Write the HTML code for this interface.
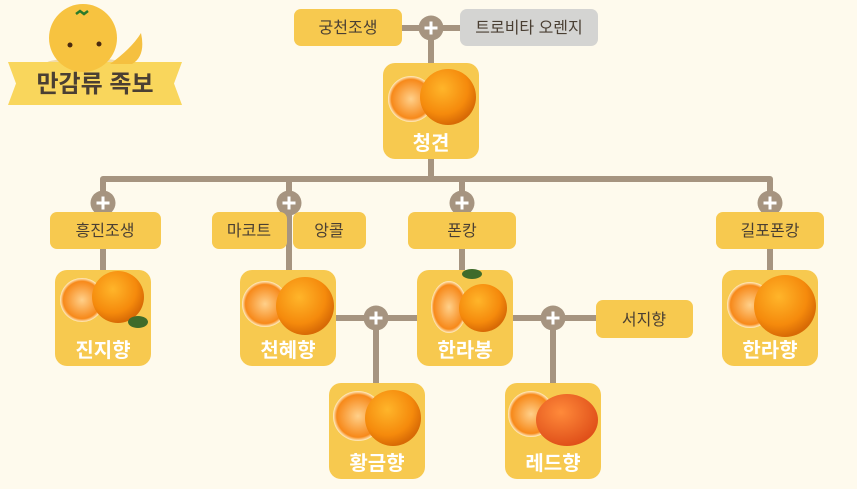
<!DOCTYPE html>
<html><head><meta charset="utf-8"><style>
html,body{margin:0;padding:0;background:#fefaed;}
svg{display:block}
text{font-family:"Liberation Sans","Noto Sans CJK KR",sans-serif;}
</style></head><body>
<svg width="857" height="489" viewBox="0 0 857 489" xmlns="http://www.w3.org/2000/svg">
<defs>
<radialGradient id="og" cx="40%" cy="35%" r="65%"><stop offset="0" stop-color="#ffb52a"/><stop offset="0.7" stop-color="#f58a0c"/><stop offset="1" stop-color="#d86a05"/></radialGradient>
<radialGradient id="sl" cx="50%" cy="50%" r="50%"><stop offset="0" stop-color="#ffd08a"/><stop offset="0.85" stop-color="#f7891a"/><stop offset="1" stop-color="#fff0c8"/></radialGradient>
<radialGradient id="rd" cx="40%" cy="35%" r="65%"><stop offset="0" stop-color="#ff8a3a"/><stop offset="1" stop-color="#e0501a"/></radialGradient>
<g id="pl"><circle r="12.5" fill="#a69480"/><path d="M-6.5 0H6.5M0 -6.5V6.5" stroke="#fff" stroke-width="3"/></g>
</defs>
<g stroke="#a69480" stroke-width="6" fill="none" stroke-linecap="round">
<path d="M402 28H460M431 28V63M431 159V179M103 179H770M103 179V249M289 179V270M462 179V270M770 179V270M103 249V270M336 318H417M376 318V383M513 318H596M553 318V383"/>
</g>
<use href="#pl" x="431" y="28"/><use href="#pl" x="103" y="203"/><use href="#pl" x="289" y="203"/><use href="#pl" x="462" y="203"/><use href="#pl" x="770" y="203"/><use href="#pl" x="376" y="318"/><use href="#pl" x="553" y="318"/>
<g fill="#f7c94f">
<rect x="294" y="9" width="108" height="37" rx="7"/>
<rect x="50" y="212" width="111" height="37" rx="7"/>
<rect x="212" y="212" width="75" height="37" rx="7"/>
<rect x="293" y="212" width="73" height="37" rx="7"/>
<rect x="408" y="212" width="108" height="37" rx="7"/>
<rect x="716" y="212" width="108" height="37" rx="7"/>
<rect x="596" y="300" width="97" height="38" rx="7"/>
</g>
<rect x="460" y="9" width="138" height="37" rx="7" fill="#d4d4d2"/>
<g font-size="16" fill="#4a3f33" text-anchor="middle">
<text x="348" y="33">궁천조생</text><text x="529" y="33">트로비타 오렌지</text>
<text x="105" y="236">흥진조생</text><text x="249" y="236">마코트</text><text x="329" y="236">앙콜</text>
<text x="462" y="236">폰캉</text><text x="770" y="236">길포폰캉</text><text x="644" y="325">서지향</text>
</g>
<g>
<rect x="383" y="63" width="96" height="96" rx="12" fill="#f7c94f"/>
<circle cx="411" cy="99" r="23" fill="url(#sl)"/><circle cx="448" cy="97" r="28" fill="url(#og)"/>
<rect x="55" y="270" width="96" height="96" rx="12" fill="#f7c94f"/>
<circle cx="82" cy="300" r="22" fill="url(#sl)"/><circle cx="118" cy="297" r="26" fill="url(#og)"/><ellipse cx="138" cy="322" rx="10" ry="6" fill="#3f6b2a"/>
<rect x="240" y="270" width="96" height="96" rx="12" fill="#f7c94f"/>
<circle cx="265" cy="304" r="23" fill="url(#sl)"/><circle cx="305" cy="306" r="29" fill="url(#og)"/>
<rect x="417" y="270" width="96" height="96" rx="12" fill="#f7c94f"/>
<ellipse cx="449" cy="307" rx="18" ry="26" fill="url(#sl)"/><circle cx="483" cy="308" r="24" fill="url(#og)"/><ellipse cx="472" cy="274" rx="10" ry="5" fill="#3f6b2a"/>
<rect x="722" y="270" width="96" height="96" rx="12" fill="#f7c94f"/>
<circle cx="750" cy="305" r="23" fill="url(#sl)"/><circle cx="785" cy="306" r="31" fill="url(#og)"/>
<rect x="329" y="383" width="96" height="96" rx="12" fill="#f7c94f"/>
<circle cx="358" cy="416" r="25" fill="url(#sl)"/><circle cx="393" cy="418" r="28" fill="url(#og)"/>
<rect x="505" y="383" width="96" height="96" rx="12" fill="#f7c94f"/>
<circle cx="531" cy="414" r="23" fill="url(#sl)"/><ellipse cx="567" cy="420" rx="31" ry="26" fill="url(#rd)"/>
</g>
<g font-size="20" font-weight="bold" fill="#fff" text-anchor="middle">
<text x="431" y="150">청견</text><text x="103" y="357">진지향</text><text x="288" y="357">천혜향</text>
<text x="465" y="357">한라봉</text><text x="770" y="357">한라향</text><text x="377" y="470">황금향</text><text x="553" y="470">레드향</text>
</g>
<ellipse cx="85" cy="64" rx="40" ry="6" fill="#e8c77a" opacity="0.6"/>
<path d="M8 62H182L174 83.5L182 105H8L16 83.5Z" fill="#f9d65c"/>
<circle cx="83" cy="38" r="34" fill="#f7c340"/>
<path d="M110 64Q132 48 141 33Q146 56 132 64Z" fill="#f5c040"/>
<circle cx="70" cy="45" r="2.5" fill="#4a2a10"/><circle cx="99" cy="44" r="2.5" fill="#4a2a10"/>
<path d="M76 14l4 -3 4 3 4 -3" stroke="#2a7a2a" stroke-width="2.5" fill="none"/>
<text x="95" y="92" font-size="24" font-weight="bold" fill="#4a3f33" text-anchor="middle">만감류 족보</text>
</svg>
</body></html>
